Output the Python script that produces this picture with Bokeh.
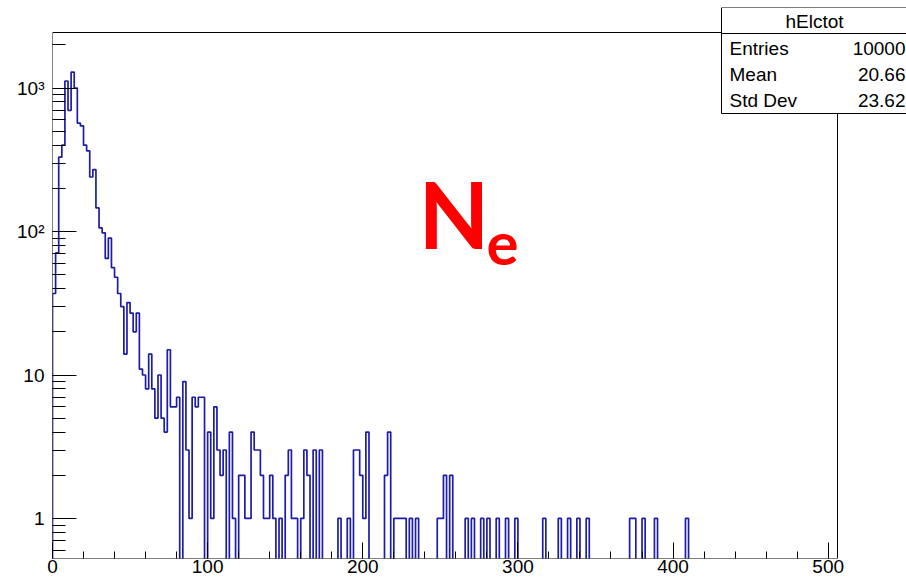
import numpy as np
from bokeh.plotting import figure
from bokeh.models import FixedTicker, Label, BoxAnnotation
from bokeh.embed import file_html
from bokeh.resources import INLINE

# Histogram hElctot: number of electrons per event, 2-unit bins from 0
bin_width = 2
n_bins = 253

# Bin contents for bins 0..70 (x = 0..142)
core_counts = [37, 71, 330, 400, 1120, 700, 1290, 1000, 570, 545,
               400, 365, 240, 270, 146, 106, 98, 65, 90, 56,
               48, 37, 30, 14, 32, 27, 20, 27, 11, 10,
               8, 14, 8, 5, 10, 5, 4, 15, 6, 6,
               7, 0, 9, 3, 1, 7, 6, 7, 7, 0,
               4, 1, 6, 3, 2, 3, 0, 4, 1, 0,
               2, 2, 1, 1, 4, 3, 3, 2, 1, 1,
               2]

# Sparse tail: bin index -> content (all other bins empty)
tail_bins = [71, 73, 75, 76, 77, 78, 80, 81, 82, 84, 86, 92, 95, 97, 98, 99,
             100, 101, 107, 108, 110, 111, 112, 113, 115, 117, 124, 125, 126,
             128, 133, 135, 138, 140, 143, 146, 149, 158, 163, 166, 169, 172,
             186, 187, 190, 194, 204]
tail_counts = [1, 1, 2, 3, 1, 1, 1, 3, 2, 3, 3, 1, 1, 3, 3, 2,
               1, 4, 2, 4, 1, 1, 1, 1, 1, 1, 1, 1, 2,
               2, 1, 1, 1, 1, 1, 1, 1, 1, 1, 1, 1, 1,
               1, 1, 1, 1, 1]

stats_title = "hElctot"
stats_names = ["Entries", "Mean", "Std Dev"]
stats_values = ["10000", "20.66", "23.62"]

x_ticks = [0, 100, 200, 300, 400, 500]
y_ticks = [1, 10, 100, 1000]
y_tick_labels = {1: "1", 10: "10", 100: "10\u00b2", 1000: "10\u00b3"}

counts = np.zeros(n_bins)
counts[:len(core_counts)] = core_counts
counts[tail_bins] = tail_counts
edges = np.arange(n_bins + 1) * bin_width

# axis frame of the histogram (data limits)
x_lo, x_hi = 0, 506
y_lo, y_hi = 0.526, 2440

W, H = 906, 583
# histogram frame in pixels
fl, fr, ft, fb = 52, 837, 32, 558
# bokeh plotting area also holds the statistics box above/right of the frame
cl, cr, ct, cb = 52, 906, 7, 558

ux = (x_hi - x_lo) / (fr - fl)
lt, lb = np.log10(y_hi), np.log10(y_lo)
uy = (lt - lb) / (fb - ft)


def xd(px):
    return x_lo + (px - fl) * ux


def yd(py):
    return 10 ** (lt - (py - ft) * uy)


p = figure(width=W, height=H,
           x_range=(xd(cl), xd(cr)), y_range=(yd(cb), yd(ct)),
           y_axis_type="log", output_backend="svg", toolbar_location=None,
           min_border_left=cl, min_border_right=W - cr,
           min_border_top=ct, min_border_bottom=H - cb)
p.background_fill_color = "white"
p.border_fill_color = "white"
p.outline_line_color = None
p.grid.visible = False

# histogram frame
p.add_layout(BoxAnnotation(left=x_lo, right=x_hi, bottom=y_lo, top=y_hi,
                           fill_alpha=0, line_color="black", line_alpha=1,
                           line_width=1))

# histogram outline (empty bins drop below the frame)
floor = 0.2
shown = np.where(counts > 0, counts, floor)
xs = np.repeat(edges, 2)
ys = np.concatenate([[floor], np.repeat(shown, 2), [floor]])
p.line(xs, ys, line_color="#1c1ca8", line_width=1.7)

font = "Liberation Sans"

xa = p.xaxis[0]
xa.ticker = FixedTicker(ticks=x_ticks,
                        minor_ticks=list(range(0, 507, 20)))
xa.major_tick_in = 16
xa.major_tick_out = 0
xa.minor_tick_in = 7
xa.minor_tick_out = 0
xa.major_label_standoff = 1
xa.major_label_text_font = font
xa.major_label_text_font_size = "19px"
xa.major_label_text_color = "black"
xa.axis_line_color = None
xa.major_tick_line_color = "black"
xa.minor_tick_line_color = "black"

ya = p.yaxis[0]
minor_y = [m * d for d in (0.1, 1, 10, 100) for m in range(2, 10)] + [2000]
ya.ticker = FixedTicker(ticks=y_ticks, minor_ticks=minor_y)
ya.major_label_overrides = y_tick_labels
ya.major_tick_in = 24
ya.major_tick_out = 0
ya.minor_tick_in = 13
ya.minor_tick_out = 0
ya.major_label_standoff = 8
ya.major_label_text_font = font
ya.major_label_text_font_size = "19px"
ya.major_label_text_color = "black"
ya.axis_line_color = None
ya.major_tick_line_color = "black"
ya.minor_tick_line_color = "black"

# statistics box
for y_top, y_bot in ((7, 33), (33, 113)):
    p.add_layout(BoxAnnotation(left=xd(721), right=xd(940), top=yd(y_top), bottom=yd(y_bot),
                               fill_color="white", fill_alpha=1,
                               line_color="black", line_alpha=1, line_width=1))
p.add_layout(Label(x=xd(814), y=yd(21), text=stats_title, text_align="center",
                   text_baseline="middle", text_font=font,
                   text_font_size="19px", text_color="black"))
for i, (name, val) in enumerate(zip(stats_names, stats_values)):
    yy = yd(48 + i * 26)
    p.add_layout(Label(x=xd(729), y=yy, text=name, text_align="left",
                       text_baseline="middle", text_font=font,
                       text_font_size="19px", text_color="black"))
    p.add_layout(Label(x=xd(905), y=yy, text=val, text_align="right",
                       text_baseline="middle", text_font=font,
                       text_font_size="19px", text_color="black"))

# N_e annotation
p.add_layout(Label(x=xd(418), y=yd(213), text="N", text_align="left",
                   text_baseline="alphabetic", text_font="Lato",
                   text_font_style="bold", text_font_size="92px",
                   text_color="#ff0000"))
p.add_layout(Label(x=xd(486), y=yd(243), text="e", text_align="left",
                   text_baseline="alphabetic", text_font="Lato",
                   text_font_style="bold", text_font_size="60px",
                   text_color="#ff0000"))

open("out.html", "w").write(file_html(p, INLINE))
